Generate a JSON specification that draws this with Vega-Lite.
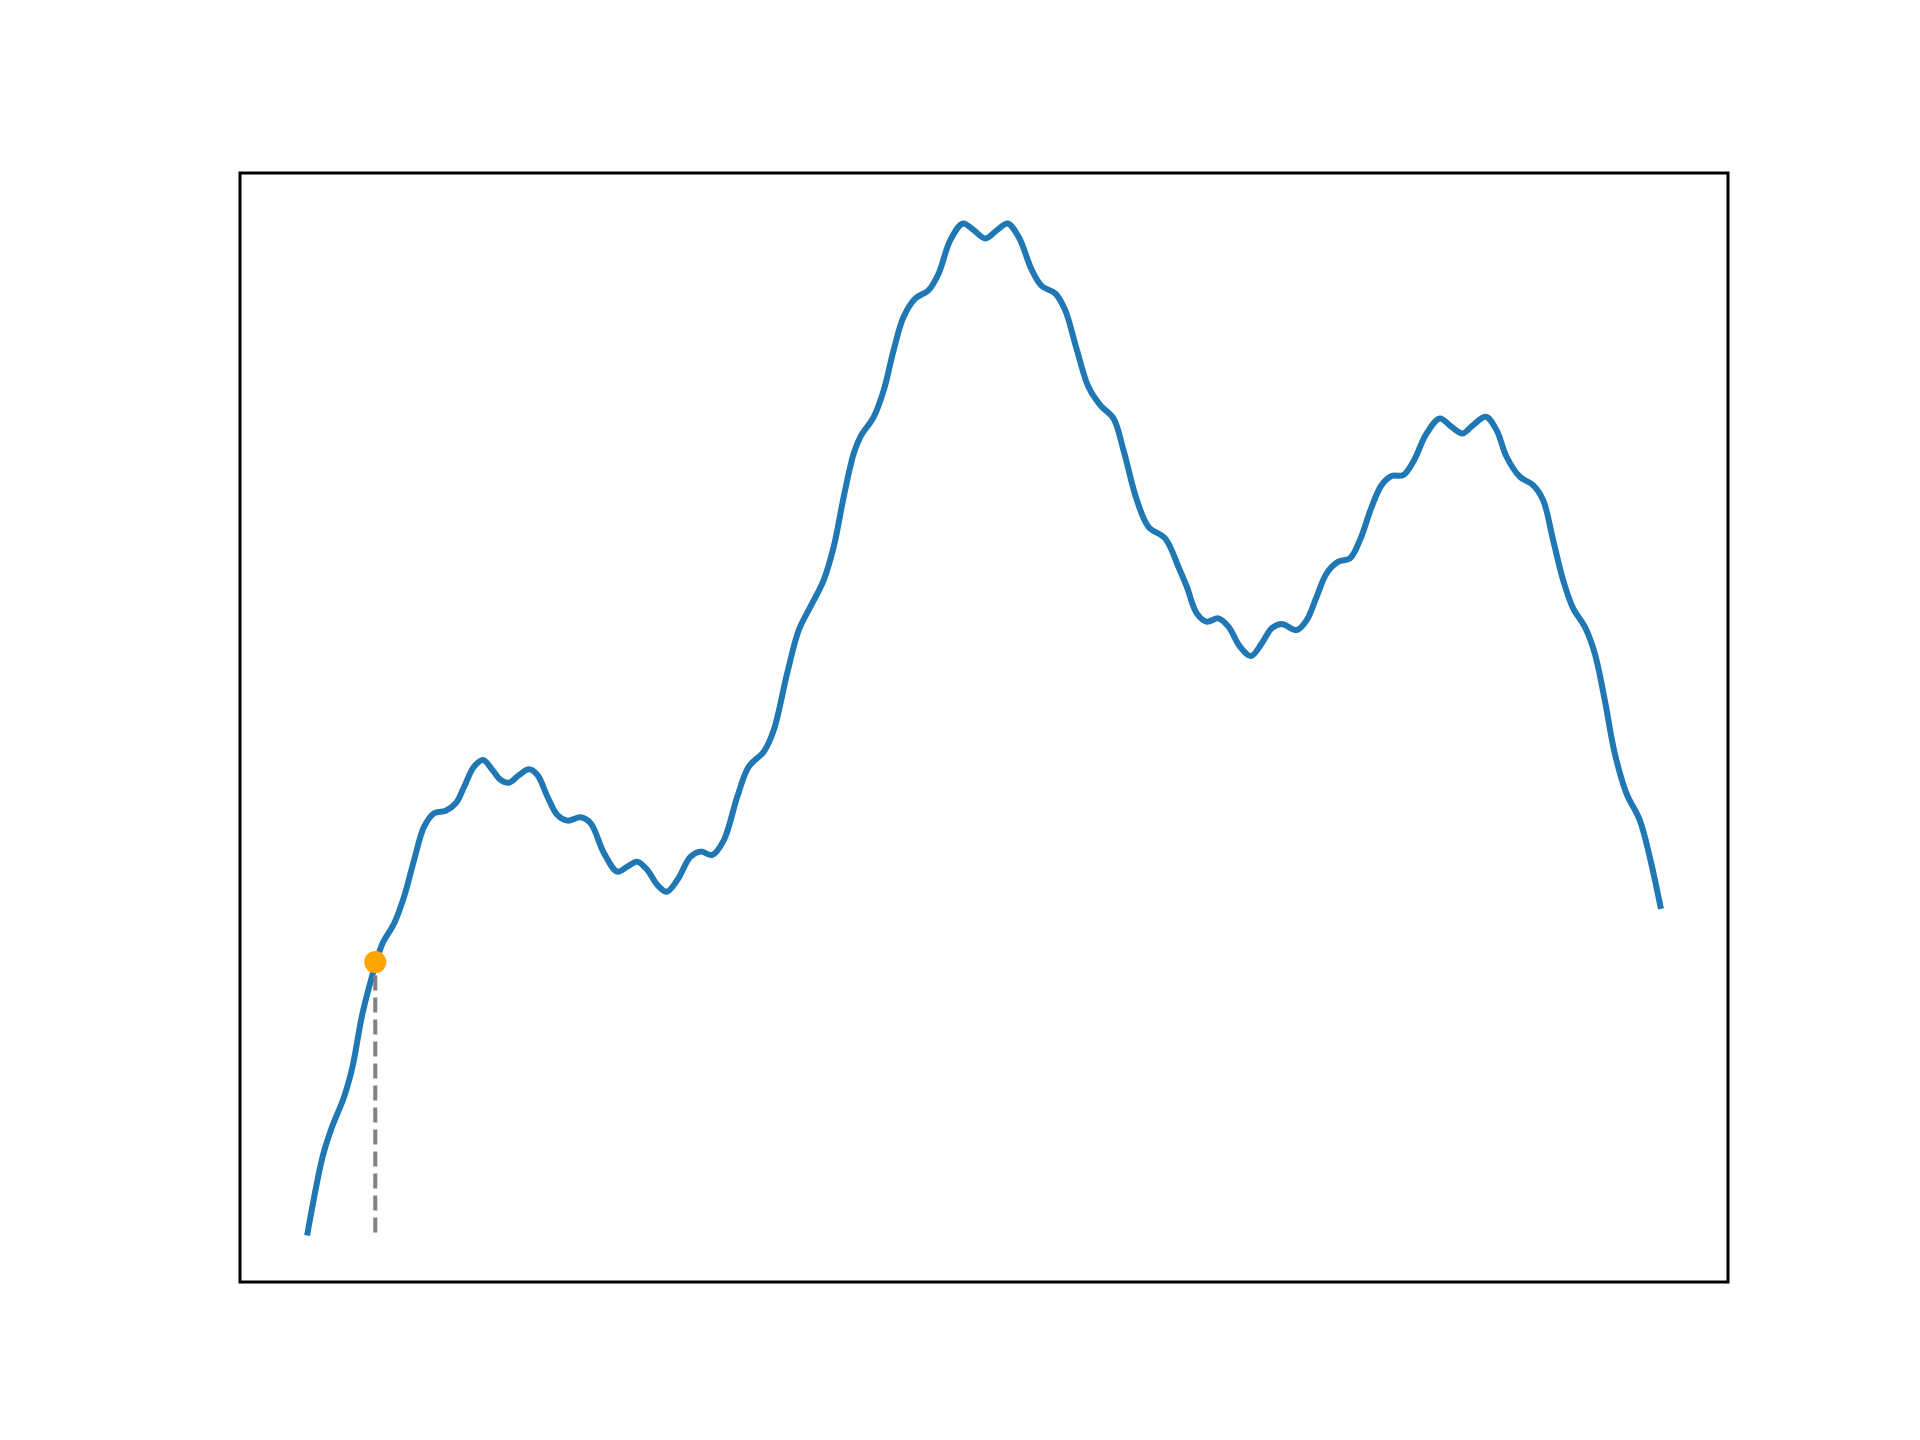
{
  "$schema": "https://vega.github.io/schema/vega-lite/v6.json",
  "width": 1488,
  "height": 1109,
  "autosize": {"type": "none"},
  "padding": {"left": 240, "top": 173, "right": 192, "bottom": 158},
  "background": "white",
  "config": {"view": {"stroke": "black", "strokeWidth": 3}},
  "datasets": {
    "curve": [
      {"x": 0.000, "y": 0.000}, {"x": 0.111, "y": 0.753}, {"x": 0.172, "y": 1.017}, {"x": 0.270, "y": 1.347},
      {"x": 0.332, "y": 1.645}, {"x": 0.406, "y": 2.174}, {"x": 0.507, "y": 2.679}, {"x": 0.554, "y": 2.867},
      {"x": 0.640, "y": 3.065}, {"x": 0.713, "y": 3.329}, {"x": 0.787, "y": 3.692}, {"x": 0.861, "y": 4.022},
      {"x": 0.935, "y": 4.155}, {"x": 1.021, "y": 4.181}, {"x": 1.095, "y": 4.254}, {"x": 1.157, "y": 4.418},
      {"x": 1.230, "y": 4.617}, {"x": 1.297, "y": 4.683}, {"x": 1.366, "y": 4.584}, {"x": 1.428, "y": 4.485},
      {"x": 1.489, "y": 4.458}, {"x": 1.563, "y": 4.534}, {"x": 1.637, "y": 4.591}, {"x": 1.699, "y": 4.534},
      {"x": 1.773, "y": 4.319}, {"x": 1.846, "y": 4.138}, {"x": 1.920, "y": 4.082}, {"x": 2.018, "y": 4.115},
      {"x": 2.092, "y": 4.056}, {"x": 2.191, "y": 3.759}, {"x": 2.290, "y": 3.576}, {"x": 2.363, "y": 3.626},
      {"x": 2.437, "y": 3.675}, {"x": 2.511, "y": 3.593}, {"x": 2.585, "y": 3.445}, {"x": 2.654, "y": 3.378},
      {"x": 2.733, "y": 3.494}, {"x": 2.831, "y": 3.725}, {"x": 2.905, "y": 3.775}, {"x": 2.991, "y": 3.742},
      {"x": 3.077, "y": 3.890}, {"x": 3.176, "y": 4.319}, {"x": 3.261, "y": 4.617}, {"x": 3.372, "y": 4.765},
      {"x": 3.446, "y": 4.980}, {"x": 3.545, "y": 5.542}, {"x": 3.631, "y": 5.971}, {"x": 3.717, "y": 6.202},
      {"x": 3.815, "y": 6.466}, {"x": 3.889, "y": 6.796}, {"x": 3.963, "y": 7.291}, {"x": 4.037, "y": 7.721},
      {"x": 4.086, "y": 7.886}, {"x": 4.185, "y": 8.084}, {"x": 4.259, "y": 8.349}, {"x": 4.332, "y": 8.745},
      {"x": 4.406, "y": 9.075}, {"x": 4.493, "y": 9.257}, {"x": 4.591, "y": 9.339}, {"x": 4.665, "y": 9.505},
      {"x": 4.751, "y": 9.835}, {"x": 4.845, "y": 10.000}, {"x": 4.923, "y": 9.934}, {"x": 5.010, "y": 9.851},
      {"x": 5.096, "y": 9.934}, {"x": 5.174, "y": 10.000}, {"x": 5.256, "y": 9.867}, {"x": 5.354, "y": 9.537},
      {"x": 5.428, "y": 9.379}, {"x": 5.527, "y": 9.306}, {"x": 5.600, "y": 9.141}, {"x": 5.687, "y": 8.745},
      {"x": 5.772, "y": 8.381}, {"x": 5.859, "y": 8.200}, {"x": 5.957, "y": 8.068}, {"x": 6.031, "y": 7.754},
      {"x": 6.130, "y": 7.259}, {"x": 6.216, "y": 6.994}, {"x": 6.339, "y": 6.879}, {"x": 6.437, "y": 6.598},
      {"x": 6.499, "y": 6.400}, {"x": 6.573, "y": 6.136}, {"x": 6.647, "y": 6.053}, {"x": 6.733, "y": 6.087},
      {"x": 6.807, "y": 6.004}, {"x": 6.893, "y": 5.805}, {"x": 6.974, "y": 5.713}, {"x": 7.053, "y": 5.839},
      {"x": 7.127, "y": 5.988}, {"x": 7.201, "y": 6.030}, {"x": 7.312, "y": 5.971}, {"x": 7.386, "y": 6.070},
      {"x": 7.459, "y": 6.301}, {"x": 7.533, "y": 6.533}, {"x": 7.619, "y": 6.648}, {"x": 7.705, "y": 6.681},
      {"x": 7.779, "y": 6.862}, {"x": 7.866, "y": 7.192}, {"x": 7.939, "y": 7.407}, {"x": 8.013, "y": 7.497},
      {"x": 8.099, "y": 7.506}, {"x": 8.173, "y": 7.638}, {"x": 8.272, "y": 7.919}, {"x": 8.370, "y": 8.068},
      {"x": 8.456, "y": 7.985}, {"x": 8.538, "y": 7.919}, {"x": 8.616, "y": 8.002}, {"x": 8.710, "y": 8.084},
      {"x": 8.789, "y": 7.952}, {"x": 8.863, "y": 7.688}, {"x": 8.961, "y": 7.490}, {"x": 9.059, "y": 7.407},
      {"x": 9.133, "y": 7.259}, {"x": 9.207, "y": 6.863}, {"x": 9.281, "y": 6.466}, {"x": 9.355, "y": 6.186},
      {"x": 9.441, "y": 6.004}, {"x": 9.515, "y": 5.740}, {"x": 9.589, "y": 5.277}, {"x": 9.663, "y": 4.749},
      {"x": 9.749, "y": 4.353}, {"x": 9.847, "y": 4.089}, {"x": 9.921, "y": 3.725}, {"x": 10.000, "y": 3.237}
    ],
    "marker": [
      {"x": 0.5, "y": 2.68, "y0": 0}
    ]
  },
  "layer": [
    {
      "data": {"name": "curve"},
      "mark": {"type": "line", "interpolate": "catmull-rom", "color": "#1f77b4", "strokeWidth": 6, "strokeCap": "square"},
      "encoding": {
        "x": {"field": "x", "type": "quantitative", "scale": {"domain": [-0.5, 10.5], "nice": false, "zero": false}, "axis": null},
        "y": {"field": "y", "type": "quantitative", "scale": {"domain": [-0.49, 10.5], "nice": false, "zero": false}, "axis": null}
      }
    },
    {
      "data": {"name": "marker"},
      "mark": {"type": "rule", "color": "#808080", "strokeWidth": 4, "strokeDash": [15, 7]},
      "encoding": {
        "x": {"field": "x", "type": "quantitative"},
        "y": {"field": "y0", "type": "quantitative"},
        "y2": {"field": "y"}
      }
    },
    {
      "data": {"name": "marker"},
      "mark": {"type": "point", "filled": true, "color": "#FFA500", "opacity": 1, "size": 490},
      "encoding": {
        "x": {"field": "x", "type": "quantitative"},
        "y": {"field": "y", "type": "quantitative"}
      }
    }
  ]
}
